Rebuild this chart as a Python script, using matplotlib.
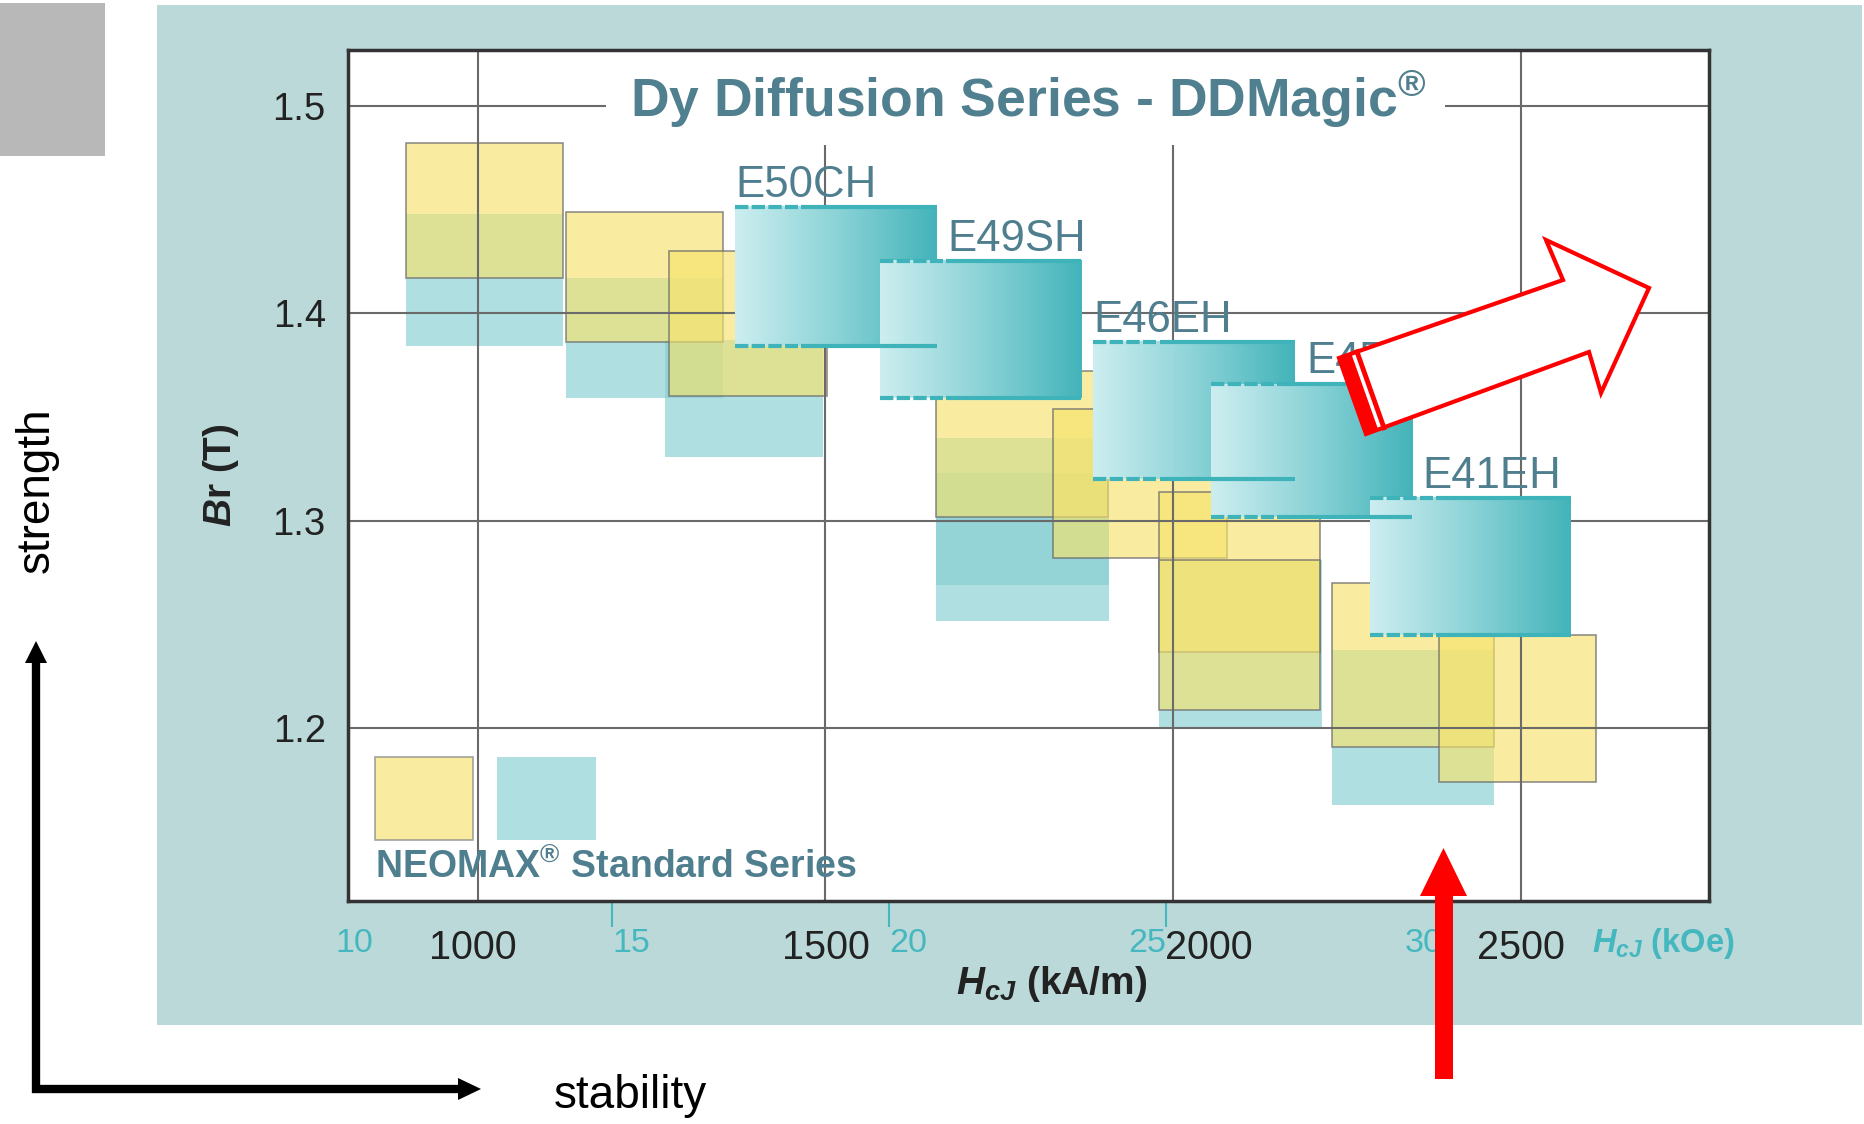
import numpy as np
import matplotlib
matplotlib.use('Agg')
import matplotlib.pyplot as plt
from matplotlib.patches import Rectangle, Polygon
from matplotlib.colors import LinearSegmentedColormap
from matplotlib.transforms import ScaledTranslation, blended_transform_factory

plt.rcParams['font.family'] = ['Liberation Sans', 'DejaVu Sans']
plt.rcParams['mathtext.fontset'] = 'custom'
plt.rcParams['mathtext.rm'] = 'Liberation Sans:bold'
plt.rcParams['mathtext.it'] = 'Liberation Sans:italic:bold'
plt.rcParams['mathtext.bf'] = 'Liberation Sans:bold'

# ---------------- data ----------------
# NEOMAX standard series, yellow ranges (HcJ kA/m, Br T)
std_y_hcj_lo = [897, 1127, 1275, 1659, 1827, 1980, 1980, 2228, 2382]
std_y_hcj_hi = [1123, 1353, 1502, 1906, 2077, 2211, 2211, 2461, 2608]
std_y_br_lo = [1.417, 1.386, 1.360, 1.302, 1.282, 1.237, 1.209, 1.191, 1.174]
std_y_br_hi = [1.482, 1.449, 1.430, 1.372, 1.354, 1.314, 1.281, 1.270, 1.245]
# NEOMAX standard series, teal ranges
std_t_hcj_lo = [897, 1127, 1269, 1659, 1659, 1980, 2228]
std_t_hcj_hi = [1123, 1353, 1497, 1908, 1908, 2214, 2461]
std_t_br_lo = [1.384, 1.359, 1.331, 1.269, 1.252, 1.200, 1.163]
std_t_br_hi = [1.448, 1.417, 1.387, 1.340, 1.323, 1.281, 1.238]
# DDMagic grades
dd_grades = ['E50CH', 'E49SH', 'E46EH', 'E45VH', 'E41EH']
dd_hcj_lo = [1370, 1578, 1885, 2054, 2283]
dd_hcj_hi = [1660, 1868, 2175, 2344, 2572]
dd_br_lo = [1.384, 1.359, 1.320, 1.302, 1.245]
dd_br_hi = [1.451, 1.425, 1.386, 1.366, 1.311]
dd_label_hcj = [1370, 1675, 1885, 2192, 2358]

hcj_ticks = [1000, 1500, 2000, 2500]
hcj_ticklabels = ['1000', '1500', '2000', '2500']
br_ticks = [1.2, 1.3, 1.4, 1.5]
br_ticklabels = ['1.2', '1.3', '1.4', '1.5']
koe_ticks = [15, 20, 25, 30]
koe_ticklabels = ['15', '20', '25', '30']
koe_first = 10
KA_PER_KOE = 1000.0 / (4 * np.pi)

# ---------------- style ----------------
W, H = 1864, 1124
TEAL_TXT = '#45b7bf'
SLATE = '#4f7e8f'
YELLOW = (246/255, 227/255, 109/255, 0.65)
TEAL = (134/255, 206/255, 209/255, 0.65)
EDGE_Y = (0.42, 0.42, 0.42, 0.75)
DD_EDGE = '#3fb3ba'

fig = plt.figure(figsize=(W/100, H/100), dpi=100)
fig.patch.set_facecolor('white')

def fp(x, y):
    return (x / W, 1 - y / H)

# background panels
fig.patches.append(Rectangle(fp(157, 1025), (1862-157)/W, (1025-5)/H, transform=fig.transFigure,
                             facecolor='#bcd9d9', edgecolor='none', zorder=-10))
fig.patches.append(Rectangle(fp(0, 156), 105/W, (156-3)/H, transform=fig.transFigure,
                             facecolor='#b8b8b8', edgecolor='none', zorder=-10))

ax = fig.add_axes([348/W, 1-901/H, (1709-348)/W, (901-50)/H])
ax.set_facecolor('white')
xlim = (813.4, 2770.6)
ylim = (1.1169, 1.5268)

# standard teal boxes first, then yellow on top
for lo, hi, blo, bhi in zip(std_t_hcj_lo, std_t_hcj_hi, std_t_br_lo, std_t_br_hi):
    ax.add_patch(Rectangle((lo, blo), hi-lo, bhi-blo, facecolor=TEAL, edgecolor='none', zorder=1))
for lo, hi, blo, bhi in zip(std_y_hcj_lo, std_y_hcj_hi, std_y_br_lo, std_y_br_hi):
    ax.add_patch(Rectangle((lo, blo), hi-lo, bhi-blo, facecolor=YELLOW, edgecolor=EDGE_Y, lw=1.2, zorder=1))

# DDMagic gradient boxes
grad = np.linspace(0, 1, 256).reshape(1, -1)
cmap = LinearSegmentedColormap.from_list('dd', ['#cdeef0', '#8cd3d7', '#43b4ba'])
for name, lo, hi, blo, bhi, lx in zip(dd_grades, dd_hcj_lo, dd_hcj_hi, dd_br_lo, dd_br_hi, dd_label_hcj):
    ax.imshow(grad, extent=[lo, hi, blo, bhi], aspect='auto', cmap=cmap,
              interpolation='bilinear', zorder=3)
    w = hi - lo
    for yv in (blo, bhi):
        ax.plot([lo, lo + 0.312*w], [yv, yv], color=DD_EDGE, lw=3, dashes=(3.2, 0.8),
                dash_capstyle='butt', zorder=3.5)
        ax.plot([lo + 0.329*w, hi], [yv, yv], color=DD_EDGE, lw=3,
                solid_capstyle='butt', zorder=3.5)
    ax.text(lx, bhi + 0.005, name, color=SLATE, fontsize=31.5, ha='left', va='baseline', zorder=4)

ax.set_xlim(*xlim)
ax.set_ylim(*ylim)

# grid & spines
ax.grid(True, color='#6a6a6a', lw=1.5)
ax.set_axisbelow('line')
for s in ax.spines.values():
    s.set_color('#333333')
    s.set_linewidth(2.5)

# title with white backing
ax.add_patch(Rectangle((0.1896, 0.8884), 0.806-0.1896, 1-0.8884, transform=ax.transAxes,
                       facecolor='white', edgecolor='none', zorder=2))
ax.set_title(r'Dy Diffusion Series - DDMagic$^{®}$', y=0.9213, pad=0, fontsize=38.5,
             fontweight='bold', color='#50808f', zorder=4)

# ticks
ax.set_xticks(hcj_ticks)
ax.set_xticklabels(hcj_ticklabels)
ax.set_yticks(br_ticks)
ax.set_yticklabels(br_ticklabels)
ax.tick_params(axis='x', length=0, pad=20, labelsize=28.5, labelcolor='#222222')
ax.tick_params(axis='y', length=0, pad=16, labelsize=27.5, labelcolor='#222222')
xlabs = ax.get_xticklabels()
xlabs[0].set_transform(xlabs[0].get_transform() + ScaledTranslation(-0.05, 0, fig.dpi_scale_trans))
xlabs[2].set_transform(xlabs[2].get_transform() + ScaledTranslation(0.36, 0, fig.dpi_scale_trans))

ax.set_xlabel(r'$H_{cJ}$ (kA/m)', fontsize=28, fontweight='bold', color='#222222', va='baseline')
ax.xaxis.set_label_coords(0.5173, -0.1093)
ax.set_ylabel(r'$B$r (T)', fontsize=28, fontweight='bold', color='#222222', va='baseline')
ax.yaxis.set_label_coords(-0.086, 0.5006)

# secondary kOe axis
sec = ax.secondary_xaxis('bottom', functions=(lambda x: x / KA_PER_KOE, lambda x: x * KA_PER_KOE))
sec.set_xticks(koe_ticks)
sec.set_xticklabels(koe_ticklabels)
sec.tick_params(axis='x', direction='out', length=18.7, width=1.5, color=TEAL_TXT,
                labelcolor=TEAL_TXT, labelsize=24.5, pad=0.5)
sec.spines['bottom'].set_visible(False)
for lab, ha in zip(sec.get_xticklabels(), ['left', 'left', 'right', 'right']):
    lab.set_ha(ha)
btr = blended_transform_factory(ax.transData, ax.transAxes)
ax.text(koe_first * KA_PER_KOE, -(26.7/851), str(koe_first), transform=btr, ha='left', va='top',
        fontsize=24.5, color=TEAL_TXT, clip_on=False)
ax.text(0.914, -0.0599, r'$H_{cJ}$ (kOe)', transform=ax.transAxes, ha='left', va='baseline',
        fontsize=23.5, fontweight='bold', color=TEAL_TXT, clip_on=False)

# legend
ax.add_patch(Rectangle((0.0202, 0.0717), 0.0922-0.0202, 0.1692-0.0717, transform=ax.transAxes,
                       facecolor=YELLOW, edgecolor=(0.55, 0.55, 0.55, 0.8), lw=1.2, zorder=3))
ax.add_patch(Rectangle((0.1098, 0.0717), 0.1822-0.1098, 0.1692-0.0717, transform=ax.transAxes,
                       facecolor=TEAL, edgecolor='none', zorder=3))
ax.text(0.0195, 0.0270, r'NEOMAX$^{®}$ Standard Series', transform=ax.transAxes, ha='left',
        va='baseline', fontsize=27, fontweight='bold', color=SLATE, zorder=4)

# ---------------- annotation arrows ----------------
red = '#ff0000'
hollow = [(1339, 358), (1563, 280), (1546, 240), (1649, 288), (1601, 393), (1589, 352), (1366, 434)]
fig.patches.append(Polygon([fp(*p) for p in hollow], closed=True, transform=fig.transFigure,
                           facecolor='white', edgecolor=red, lw=3, joinstyle='miter', zorder=10))
u = np.array([0.945, -0.329])
p1 = np.array([1339, 358]); p7 = np.array([1366, 434])
band = [p1, p7, p7 + 13*u, p1 + 13*u]
fig.patches.append(Polygon([fp(*p) for p in band], closed=True, transform=fig.transFigure,
                           facecolor=red, edgecolor='none', zorder=11))
q1 = p1 + 19*u; q7 = p7 + 19*u
fig.lines.append(plt.Line2D([fp(*q1)[0], fp(*q7)[0]], [fp(*q1)[1], fp(*q7)[1]],
                            transform=fig.transFigure, color=red, lw=3.5, zorder=11))

vert = [(1435, 1079), (1435, 896), (1420, 896), (1443.5, 848), (1467, 896), (1453, 896), (1453, 1079)]
fig.patches.append(Polygon([fp(*p) for p in vert], closed=True, transform=fig.transFigure,
                           facecolor=red, edgecolor='none', zorder=10))

# black L arrows
fig.lines.append(plt.Line2D([fp(36, 1093)[0], fp(36, 660)[0]], [fp(36, 1093)[1], fp(36, 660)[1]],
                            transform=fig.transFigure, color='black', lw=6, solid_capstyle='butt', zorder=10))
fig.lines.append(plt.Line2D([fp(32, 1089)[0], fp(460, 1089)[0]], [fp(32, 1089)[1], fp(460, 1089)[1]],
                            transform=fig.transFigure, color='black', lw=6, solid_capstyle='butt', zorder=10))
fig.patches.append(Polygon([fp(25, 663), fp(36, 641), fp(47, 663)], closed=True, transform=fig.transFigure,
                           facecolor='black', edgecolor='none', zorder=10))
fig.patches.append(Polygon([fp(458, 1078), fp(481, 1089), fp(458, 1100)], closed=True, transform=fig.transFigure,
                           facecolor='black', edgecolor='none', zorder=10))
fig.text(37/W, 1 - 490/H, 'strength', rotation=90, ha='center', va='center', fontsize=33, color='black')
fig.text(630/W, 1 - 1108/H, 'stability', ha='center', va='baseline', fontsize=33, color='black')

fig.savefig('out.png', dpi=100)
